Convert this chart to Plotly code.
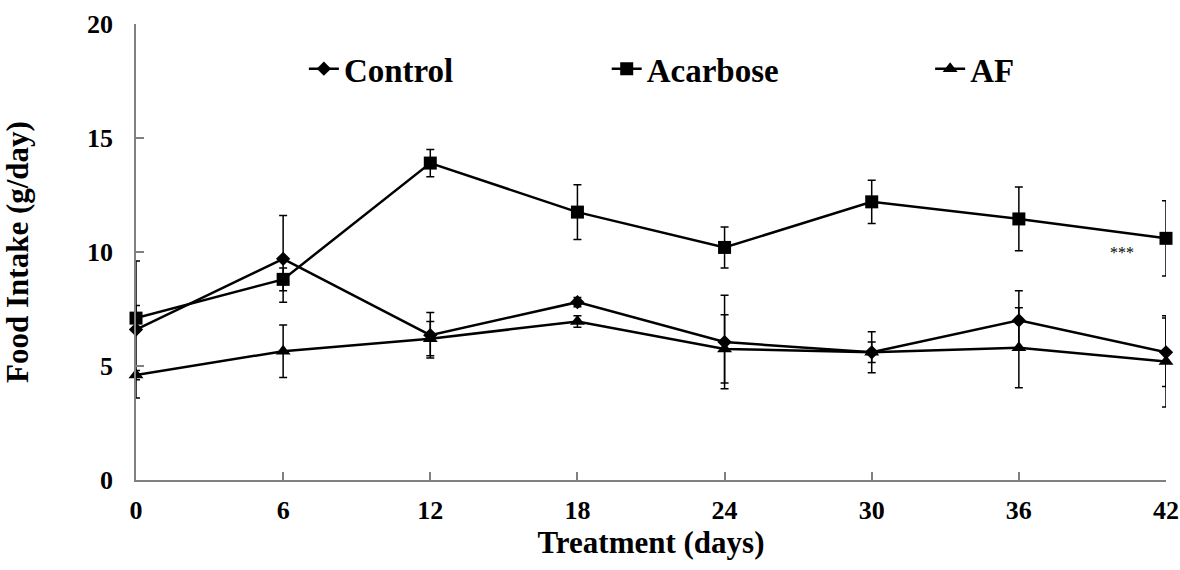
import plotly.graph_objects as go

days = [0, 6, 12, 18, 24, 30, 36, 42]
control = [6.6, 9.7, 6.35, 7.8, 6.05, 5.6, 7.0, 5.6]
control_err = [3.0, 1.9, 1.0, 0.2, 2.05, 0.9, 1.3, 1.5]
acarbose = [7.1, 8.8, 13.9, 11.75, 10.2, 12.2, 11.45, 10.6]
acarbose_err = [0.55, 0.5, 0.6, 1.2, 0.9, 0.95, 1.4, 1.65]
af = [4.6, 5.65, 6.2, 6.95, 5.75, 5.6, 5.8, 5.2]
af_err = [0.2, 1.15, 0.75, 0.25, 1.5, 0.45, 1.75, 2.0]

x_ticks = [0, 6, 12, 18, 24, 30, 36, 42]
y_ticks = [0, 5, 10, 15, 20]
sig_label = "***"
sig_pos = (40.2, 10.0)

FONT = "Liberation Serif, Times New Roman, serif"

fig = go.Figure()

def add(name, y, err, symbol, size, legend):
    fig.add_trace(go.Scatter(
        x=days, y=y, name=name, mode="lines+markers",
        line=dict(color="black", width=2.5),
        marker=dict(symbol=symbol, size=size, color="black"),
        error_y=dict(type="data", array=err, visible=True,
                     color="black", thickness=1.5, width=4),
        cliponaxis=False, legend=legend,
    ))

add("Control", control, control_err, "diamond", 11, "legend")
add("Acarbose", acarbose, acarbose_err, "square", 13, "legend2")
add("AF", af, af_err, "triangle-up", 13, "legend3")

fig.add_annotation(x=sig_pos[0], y=sig_pos[1], text=sig_label, showarrow=False,
                   font=dict(family=FONT, size=16, color="#000000"))

axis_common = dict(
    showline=True, linecolor="#808080", linewidth=1.5,
    ticks="inside", ticklen=8, tickcolor="#808080", tickwidth=1.5,
    showgrid=False, zeroline=False, automargin=False,
    tickfont=dict(family=FONT, size=26, color="black", weight="bold"),
)

legend_font = dict(family=FONT, size=33, color="black", weight="bold")

def leg(x):
    return dict(orientation="h", x=x, y=0.902, xanchor="left", yanchor="middle",
                font=legend_font, bgcolor="rgba(0,0,0,0)")

fig.update_layout(
    width=1180, height=570,
    margin=dict(l=136, r=14, t=24, b=90),
    paper_bgcolor="white", plot_bgcolor="white",
    font=dict(family=FONT, color="black"),
    showlegend=True,
    legend=leg(0.163),
    legend2=leg(0.457),
    legend3=leg(0.771),
    xaxis=dict(
        range=[0, 42], tickvals=x_ticks, ticktext=[str(v) for v in x_ticks],
        ticklabelstandoff=6,
        title=dict(text="Treatment (days)", standoff=2,
                   font=dict(family=FONT, size=31, color="black", weight="bold")),
        **axis_common,
    ),
    yaxis=dict(
        range=[0, 20], tickvals=y_ticks, ticktext=[str(v) for v in y_ticks],
        ticklabelstandoff=16,
        title=dict(text="Food Intake (g/day)", standoff=50,
                   font=dict(family=FONT, size=31, color="black", weight="bold")),
        **axis_common,
    ),
)

fig.write_html("out.html", config={"displayModeBar": False},
               post_script="document.body.style.margin='0';")
